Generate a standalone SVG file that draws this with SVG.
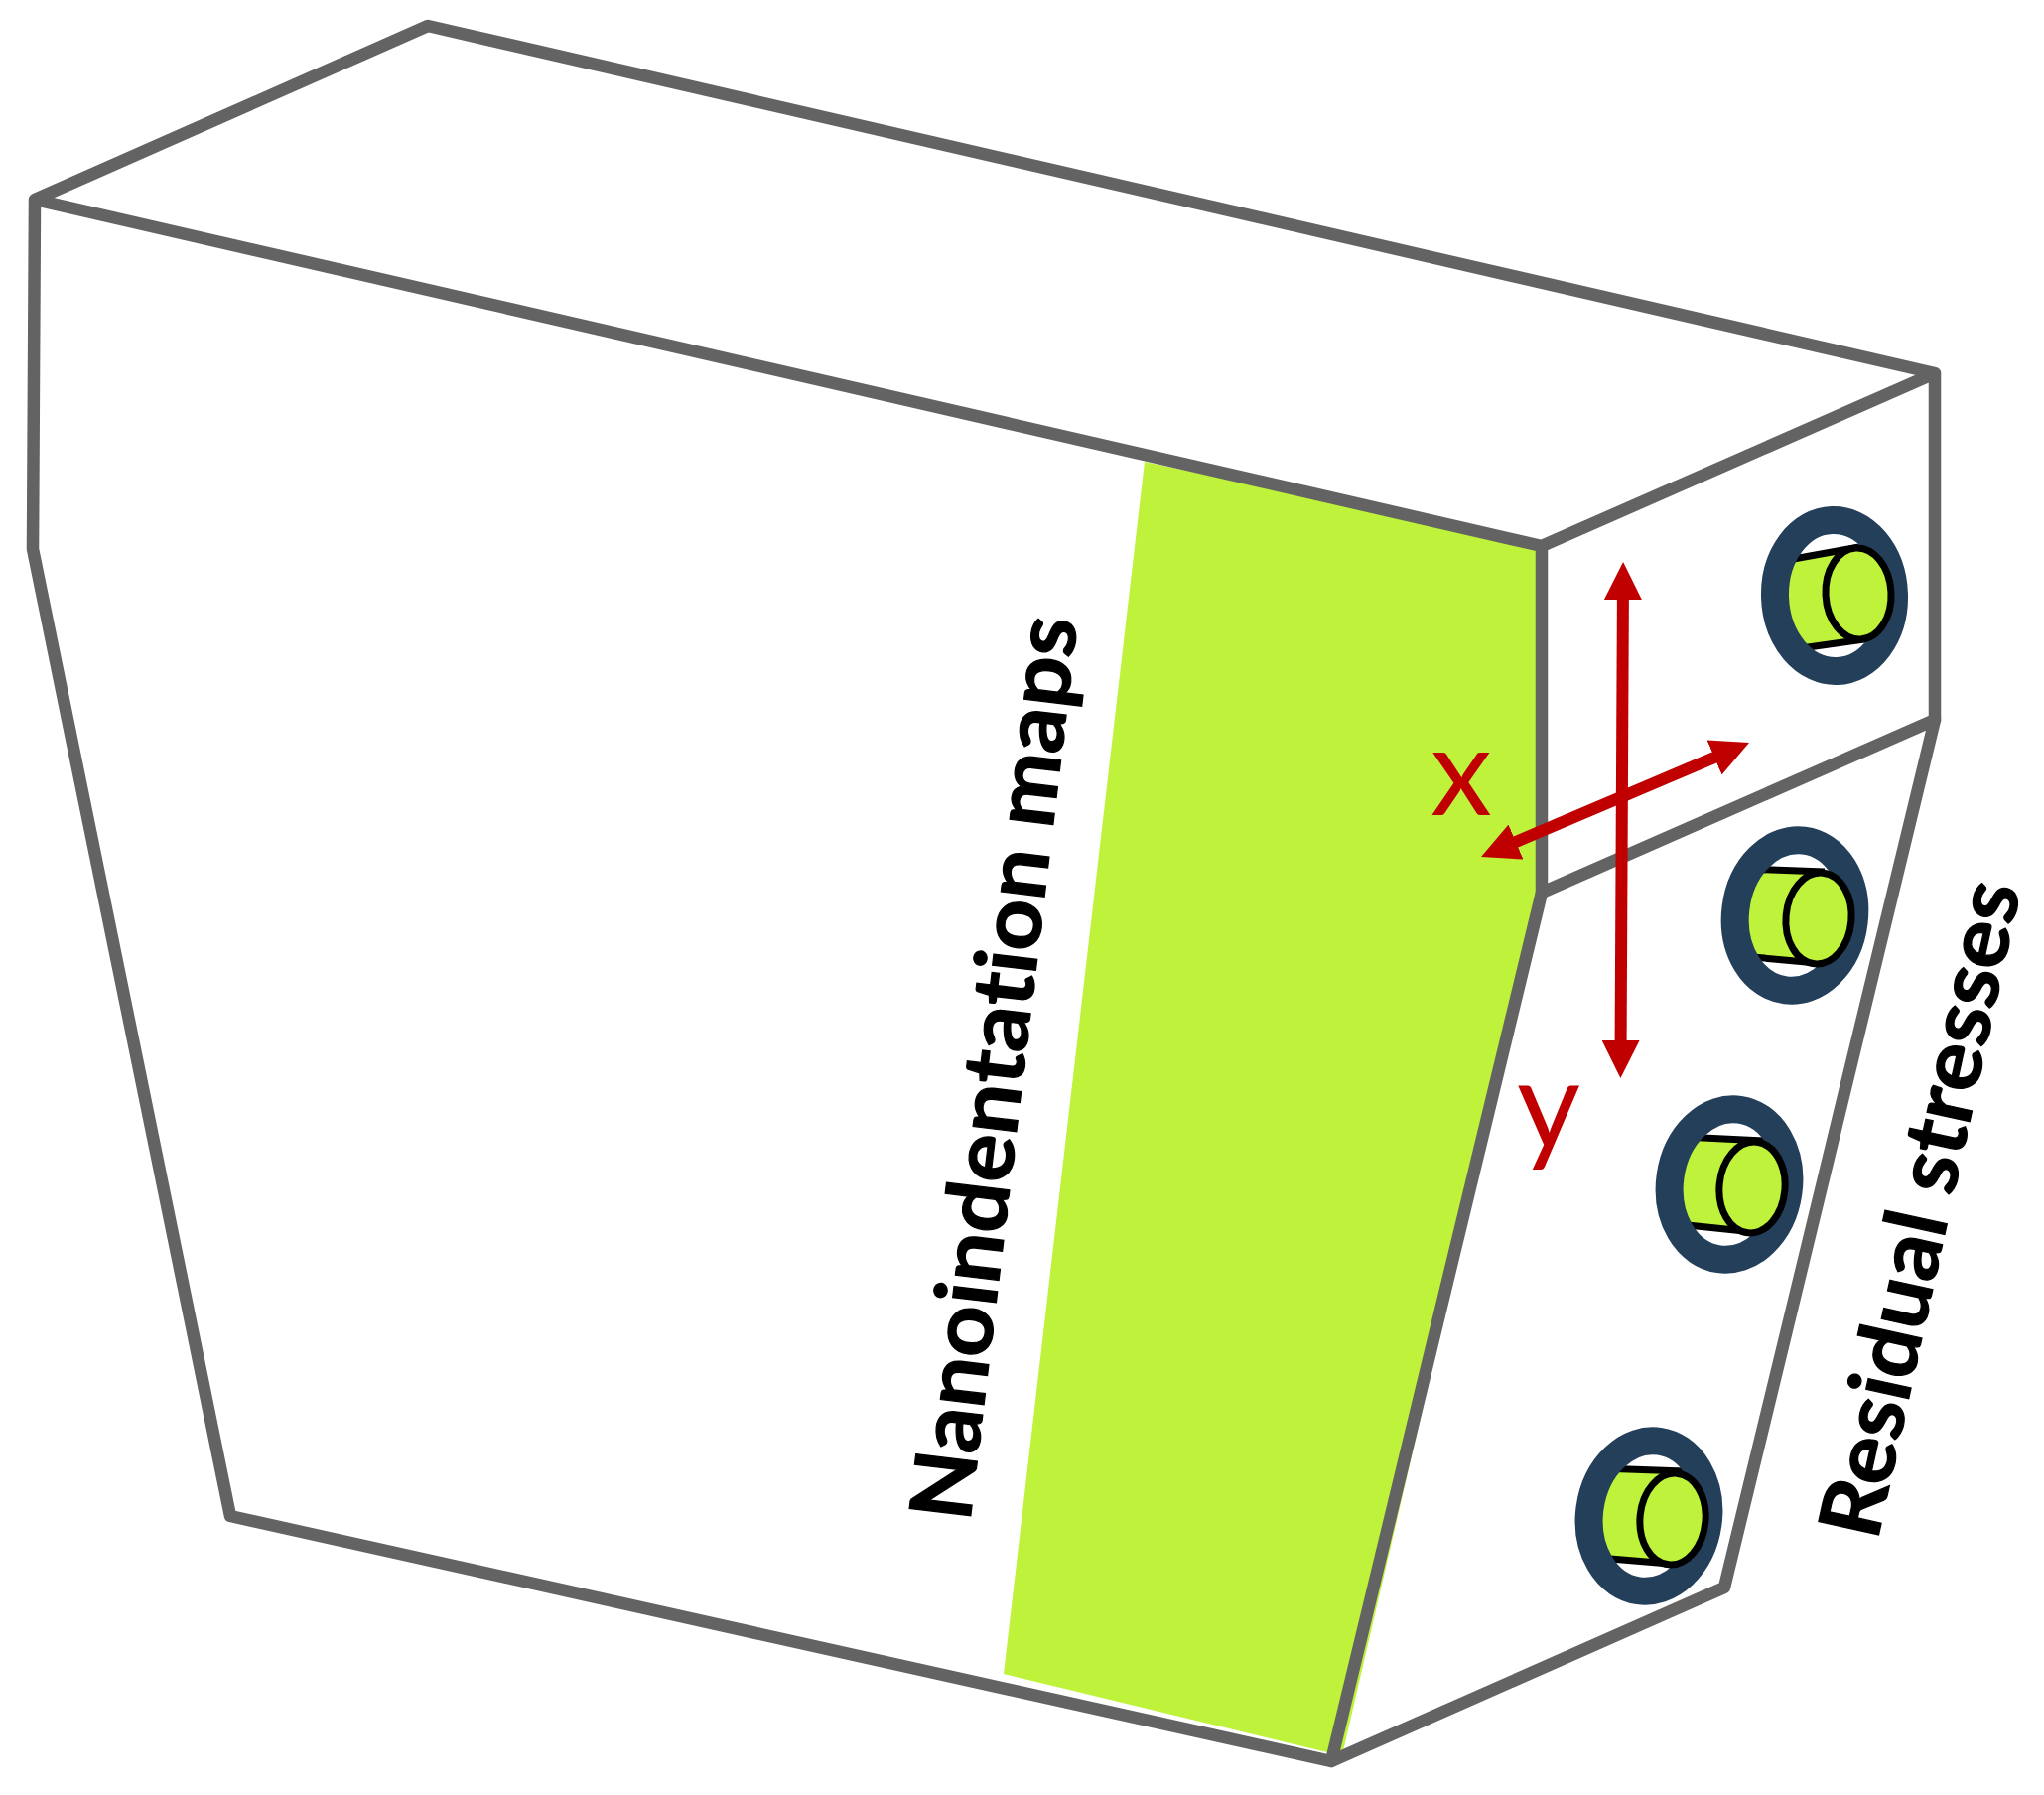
<svg xmlns="http://www.w3.org/2000/svg" width="2059" height="1808" viewBox="0 0 2059 1808">
<style>
.edge{fill:none;stroke:#636363;stroke-width:12.5;stroke-linejoin:round;stroke-linecap:round}
.ring{fill:none;stroke:#243f5a;stroke-width:28}
.body{fill:#bef23b}
.bl{fill:none;stroke:#000;stroke-width:7}
.end{fill:#bef23b;stroke:#000;stroke-width:7}
.axis{fill:none;stroke:#c00000;stroke-width:12;marker-start:url(#head);marker-end:url(#head)}
.lab{font-family:"Lato","Open Sans",sans-serif;font-size:124px;fill:#c00000}
.note{font-family:"Lato","Open Sans",sans-serif;font-size:86px;font-weight:700;fill:#000;stroke:#000;stroke-width:1.2;font-variant-ligatures:none}
</style>
<defs>
<marker id="head" markerUnits="userSpaceOnUse" markerWidth="38" markerHeight="38" refX="18" refY="18" orient="auto-start-reverse" viewBox="0 0 36 36"><path d="M0 0L36 18L0 36Z" fill="#c00000"/></marker>
</defs>
<rect width="2059" height="1808" fill="#fff"/>
<g id="map-band"><polygon class="body" points="1153,465 1553,550 1553,899 1438,1398 1352,1768 1341,1766 1011,1686"/></g>
<g id="block">
<polyline class="edge" points="35,201 431,26 1949,376 1553,550 35,201 33,553 232,1527 1341,1774 1737,1599 1949,725 1949,376"/>
<polyline class="edge" points="1553,550 1553,899 1341,1774"/>
<line class="edge" x1="1553" y1="899" x2="1949" y2="725"/>
</g>
<g id="hole-1">
<polygon class="body" points="1790,566 1873,551 1885,643 1790,656"/>
<path class="bl" d="M1790 566L1873 551M1800 655L1885 643"/>
<ellipse class="ring" cx="1848" cy="600" rx="60" ry="76" transform="rotate(-2 1848 600)"/>
<ellipse class="end" cx="1872" cy="598" rx="33" ry="46" transform="rotate(-3 1872 598)"/>
</g>
<g id="hole-2">
<polygon class="body" points="1755,876 1838,878 1830,970 1755,964"/>
<path class="bl" d="M1755 875L1838 878M1755 963L1830 970"/>
<ellipse class="ring" cx="1808" cy="922" rx="60" ry="76" transform="rotate(7 1808 922)"/>
<ellipse class="end" cx="1832" cy="925" rx="33" ry="46" transform="rotate(5 1832 925)"/>
</g>
<g id="hole-3">
<polygon class="body" points="1690,1146 1777,1149 1767,1241 1690,1234"/>
<path class="bl" d="M1695 1145L1777 1149M1690 1233L1767 1241"/>
<ellipse class="ring" cx="1742" cy="1193" rx="60" ry="76" transform="rotate(8 1742 1193)"/>
<ellipse class="end" cx="1765" cy="1196" rx="33" ry="46" transform="rotate(5 1765 1196)"/>
</g>
<g id="hole-4">
<polygon class="body" points="1608,1480 1697,1482 1682,1575 1608,1570"/>
<path class="bl" d="M1612 1479L1697 1482M1610 1569L1682 1575"/>
<ellipse class="ring" cx="1661" cy="1527" rx="60" ry="76" transform="rotate(8 1661 1527)"/>
<ellipse class="end" cx="1685" cy="1530" rx="33" ry="46" transform="rotate(5 1685 1530)"/>
</g>
<g id="connectors">
<line class="axis" x1="1635" y1="585" x2="1632.5" y2="1067"/>
<line class="axis" x1="1509.5" y1="855.5" x2="1744.5" y2="755.5"/>
</g>
<g id="labels">
<text class="lab" x="1441" y="821">x</text>
<text class="lab" x="1528" y="1157">y</text>
<text class="note" transform="translate(977 1534) rotate(-83.2)" textLength="916" lengthAdjust="spacingAndGlyphs">Nanoindentation maps</text>
<text class="note" transform="translate(1891 1553) rotate(-77.6)" textLength="674" lengthAdjust="spacingAndGlyphs">Residual stresses</text>
</g>
</svg>
